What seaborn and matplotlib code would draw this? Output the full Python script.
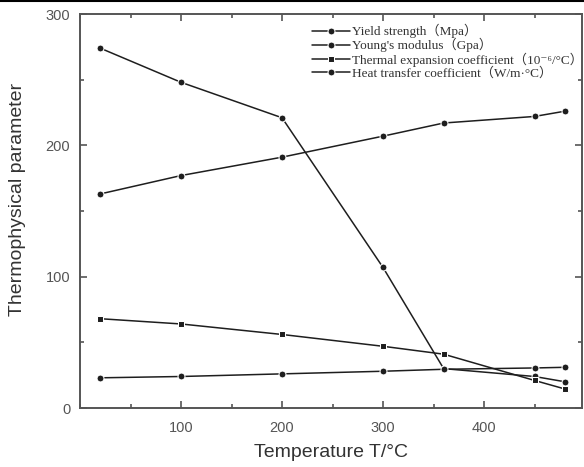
import numpy as np
import pandas as pd
import matplotlib
matplotlib.use("Agg")
import matplotlib.pyplot as plt
from matplotlib.lines import Line2D
from matplotlib.ticker import MultipleLocator
import seaborn as sns

# Temperature points (°C)
temperature = [20, 100, 200, 300, 360, 450, 480]

# Series values
yield_strength = [274, 248, 221, 107, 30, 24, 20]
youngs_modulus = [163, 177, 191, 207, 217, 222, 226]
thermal_expansion = [68, 64, 56, 47, 41, 21, 14.5]
heat_transfer = [23, 24, 26, 28, 29.5, 30.5, 31]

series_names = [
    "Yield strength（Mpa）",
    "Young's modulus（Gpa）",
    "Thermal expansion coefficient（10⁻⁶/°C）",
    "Heat transfer coefficient（W/m·°C）",
]
series_values = [yield_strength, youngs_modulus, thermal_expansion, heat_transfer]

x_ticks = [100, 200, 300, 400]
y_ticks = [0, 100, 200, 300]

df = pd.concat(
    [pd.DataFrame({"T": temperature, "value": vals, "series": name})
     for name, vals in zip(series_names, series_values)],
    ignore_index=True,
)

sns.set_style("ticks")
plt.rcParams["font.family"] = ["Liberation Sans", "DejaVu Sans"]

fig = plt.figure(figsize=(5.84, 4.67), dpi=100)
ax = fig.add_axes([0.137, 0.1263, 0.8596, 0.8437])

line_color = "#1e1e1e"
sns.lineplot(
    data=df, x="T", y="value", hue="series", style="series",
    palette=[line_color] * 4, dashes=False,
    markers=["o", "o", "s", "o"], markersize=5, linewidth=1.1,
    ax=ax, legend=True,
)

ax.set_xlim(0, 497)
ax.set_ylim(0, 300)
ax.set_xticks(x_ticks)
ax.set_yticks(y_ticks)
ax.xaxis.set_minor_locator(MultipleLocator(50))
ax.yaxis.set_minor_locator(MultipleLocator(50))

spine_color = "#555555"
for s in ax.spines.values():
    s.set_color(spine_color)
    s.set_linewidth(1.4)
    s.set_visible(True)

ax.tick_params(which="both", direction="in", top=True, right=True,
               color=spine_color, width=1.2)
ax.tick_params(which="major", length=5, labelsize=10.5, labelcolor="#555555")
ax.tick_params(axis="x", which="major", pad=9)
ax.tick_params(axis="y", which="major", pad=7)
ax.tick_params(which="minor", length=3)

ax.set_xlabel("Temperature T/°C", fontsize=14, color="#333333", labelpad=7)
ax.set_ylabel("Thermophysical parameter", fontsize=14, color="#333333", labelpad=14)
ax.yaxis.set_label_coords(-0.107, 0.53)

leg = ax.legend(
    loc="upper left", bbox_to_anchor=(0.462, 0.975), frameon=False,
    prop={"family": ["Liberation Serif", "Noto Sans CJK SC", "DejaVu Serif"],
          "size": 9.5},
    handlelength=2.9, handletextpad=0.1, labelspacing=0.0,
    borderaxespad=0, borderpad=0,
)
for text in leg.get_texts():
    text.set_color("#333333")

# rule along the top edge of the page
fig.add_artist(Line2D([0, 1], [0.997, 0.997], transform=fig.transFigure,
                      color="black", linewidth=1.5))

fig.savefig("out.png", dpi=100, facecolor="white")
